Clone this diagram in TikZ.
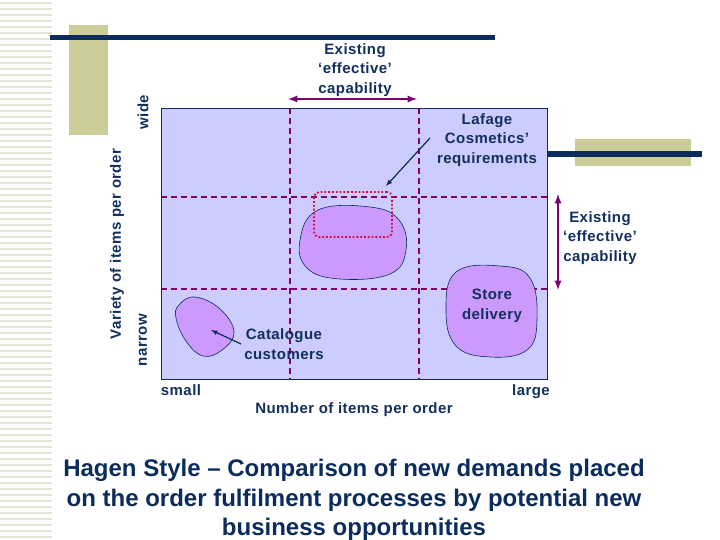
\documentclass[tikz,border=0pt]{standalone}
\usepackage{fontspec}
\setmainfont{Liberation Sans}
\newfontfamily\lblfont[LetterSpace=3]{Liberation Sans}
\definecolor{navy}{HTML}{0B2C5C}
\definecolor{labelblue}{HTML}{12305E}
\definecolor{khaki}{HTML}{CCCC99}
\definecolor{stripe}{HTML}{E6E4D2}
\definecolor{gridbg}{HTML}{CCCCFF}
\definecolor{blob}{HTML}{CC99FF}
\definecolor{plum}{HTML}{800070}
\definecolor{reqred}{HTML}{D0103A}
\tikzset{
  lbl/.style={font=\lblfont\bfseries\fontsize{15}{19.5}\selectfont,text=labelblue,align=center,inner sep=0pt},
  title/.style={font=\bfseries\fontsize{24}{29.5}\selectfont,text=navy,align=center,inner sep=0pt},
  cell/.style={plum,line width=1.6pt,dash pattern=on 6pt off 4pt},
  region/.style={fill=blob,draw=navy,line width=0.6pt},
  span/.style={plum,line width=2.2pt,latex-latex}
}
\begin{document}
\begin{tikzpicture}[x=1pt,y=-1pt]
  \useasboundingbox (0,0) rectangle (720,540);

  % slide decoration
  \foreach \y in {3,9,...,537} {
    \draw [stripe,line width=1.6pt] (0,\y) -- (52,\y);
  }
  \fill [khaki] (69,25) rectangle (108,135);
  \fill [khaki] (575,139) rectangle (691,166);
  \draw [navy,line width=5pt] (50,38) -- (495,38);
  \draw [navy,line width=6pt] (547,154) -- (702,154);

  % grid
  \draw [fill=gridbg,draw=navy,line width=0.8pt] (161,108) rectangle (547,379);
  \draw [cell] (290,108) -- (290,379);
  \draw [cell] (419,108) -- (419,379);
  \draw [cell] (161,197) -- (547,197);
  \draw [cell] (161,289) -- (547,289);

  % regions
  \draw [region] plot [smooth cycle,tension=0.7] coordinates
    {(318,210) (370,207) (399,220) (406,250) (390,274) (340,279) (307,268) (300,240)};
  \draw [region] plot [smooth cycle,tension=0.7] coordinates
    {(456,272) (500,266) (530,278) (537,320) (527,350) (490,357) (456,346) (446,310)};
  \draw [region] plot [smooth cycle,tension=0.7] coordinates
    {(179,305) (195,297) (220,309) (234,332) (222,350) (203,356) (186,341) (176,318)};
  \node [draw=reqred,line width=1.8pt,dotted,rounded corners=5pt,
         minimum width=78pt,minimum height=45pt] (req) at (353,214.5) {};

  % capability arrows
  \coordinate (topL) at (288,99);
  \coordinate (topR) at (417,99);
  \coordinate (rgtT) at (558,194);
  \coordinate (rgtB) at (558,290);
  \draw [span] (topL) -- (topR);
  \draw [span] (rgtT) -- (rgtB);

  % labels
  \node [lbl] (capTop) at (355,70) {Existing\\‘effective’\\capability};
  \node [lbl] (capRgt) at (600,238) {Existing\\‘effective’\\capability};
  \node [lbl] (lafage) at (487,140) {Lafage\\Cosmetics’\\requirements};
  \node [lbl] (store) at (492,306) {Store\\delivery};
  \node [lbl] (cat) at (284,344) {Catalogue\\customers};
  \node [lbl,anchor=base] (small) at (181,395) {small};
  \node [lbl,anchor=base] (large) at (531,395) {large};
  \node [lbl,anchor=base] (xaxis) at (354,413) {Number of items per order};
  \node [lbl,rotate=90] (wide) at (143,112) {wide};
  \node [lbl,rotate=90] (narrow) at (143,340) {narrow};
  \node [lbl,rotate=90] (yaxis) at (117,244) {Variety of items per order};

  % pointers
  \coordinate (lafS) at (430,138);
  \coordinate (lafE) at (386,186);
  \coordinate (catS) at (241,344);
  \coordinate (catE) at (211,330);
  \draw [navy,line width=1.2pt,-latex] (lafS) -- (lafE);
  \draw [navy,line width=1.2pt,-latex] (catS) -- (catE);

  % caption
  \node [title] (caption) at (354,500)
    {Hagen Style – Comparison of new demands placed\\on the order fulfilment processes by potential new\\business opportunities};
\end{tikzpicture}
\end{document}
